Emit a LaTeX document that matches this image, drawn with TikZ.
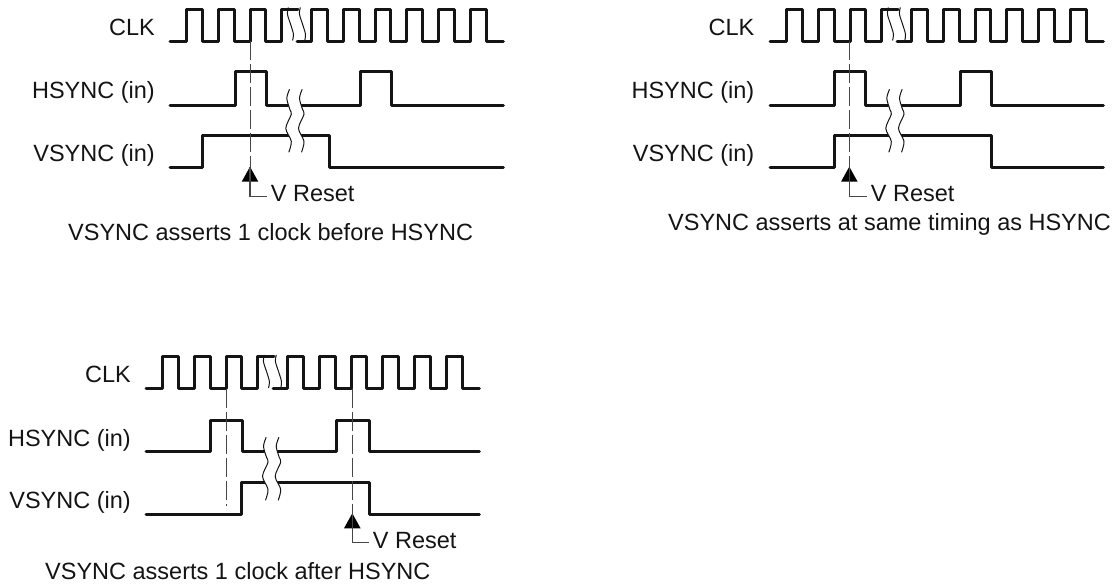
\documentclass[tikz,border=0pt]{standalone}
\usepackage{fontspec}
\setmainfont{Liberation Sans}
\usetikzlibrary{positioning}
\definecolor{wireblack}{RGB}{20,20,20}
\definecolor{guidegray}{RGB}{70,70,70}

% clock wave: x start, y low
\newcommand{\clkwave}[2]{
  \draw [sig] (#1,#2) -- ++(16.7,0)
    \foreach \k in {1,2,3} { -- ++(0,-32) -- ++(15.85,0) -- ++(0,32) -- ++(15.85,0) }
    -- ++(0,-32) -- ++(16.2,0);
  \draw [sig] (#1+127,#2) -- (#1+141.7,#2)
    \foreach \k in {1,...,6} { -- ++(0,-32) -- ++(15.85,0) -- ++(0,32) -- ++(15.85,0) }
    -- ++(1.4,0);
  \begin{scope}[shift={(#1+118,#2-33.8)}]
    \draw [brk] plot [smooth] coordinates {(0.3,0) (-0.5,7) (3,18) (5.5,27) (4.5,33)};
    \draw [brk] plot [smooth] coordinates {(12.3,0) (11.5,7) (15,18) (17.5,27) (16.5,34.5)};
  \end{scope}
}
% break across hsync and vsync: x of left wave, y top
\newcommand{\syncbreak}[2]{
  \begin{scope}[shift={(#1,#2)}]
    \fill [white] plot [smooth] coordinates {(1.2,0) (-1.5,9) (1.5,20) (3,25) (-2.5,39) (3,52) (0.5,63)}
      -- plot [smooth] coordinates {(13.2,63) (15.7,52) (10.2,39) (15.7,25) (14.2,20) (11.2,9) (13.9,0)} -- cycle;
    \draw [brk] plot [smooth] coordinates {(1.2,0) (-1.5,9) (1.5,20) (3,25) (-2.5,39) (3,52) (0.5,63)};
    \draw [brk] plot [smooth] coordinates {(13.9,0) (11.2,9) (14.2,20) (15.7,25) (10.2,39) (15.7,52) (13.2,63)};
  \end{scope}
}

\begin{document}
\begin{tikzpicture}[
  x=1pt, y=-1pt,
  every node/.style={font=\fontsize{23.5}{26}\selectfont, inner sep=0pt, text=wireblack},
  sig/.style={draw=wireblack, line width=3pt, line cap=round, line join=round},
  brk/.style={draw=wireblack, line width=1pt},
  guide/.style={draw=guidegray, line width=1pt, dash pattern=on 19pt off 4pt},
  tick/.style={draw=guidegray, line width=1.1pt, shorten >=4pt},
  tip/.style={fill=black, draw=none}
]
  \useasboundingbox (0,0) rectangle (1116,586);

  % Before
  \node (clkA) [anchor=base east] at (155,35.5) {CLK};
  \node (hsyncA) [anchor=base east] at (155,98.5) {HSYNC (in)};
  \node (vsyncA) [anchor=base east] at (155,161.5) {VSYNC (in)};
  \clkwave{170}{41.3}
  \draw [sig] (170,105) -- (235,105) -- (235,72) -- (266.7,72) -- (266.7,105) -- (360,105) -- (360,72) -- (391.7,72) -- (391.7,105) -- (503.3,105);
  \draw [sig] (170,167.3) -- (202.7,167.3) -- (202.7,135.7) -- (329,135.7) -- (329,167.3) -- (503.3,167.3);
  \syncbreak{288.3}{89.3}
  \coordinate (topA) at (250,41.3);
  \coordinate (tipA) at (250,166.7);
  \coordinate (kneeA) at (250,196.7);
  \draw [guide] (topA) -- (tipA);
  \fill [tip] (tipA) -- (258.3,181.7) -- (241.7,181.7) -- cycle;
  \node (resetA) [anchor=base west] at (270.7,201) {V Reset};
  \draw [tick] (tipA) -- (kneeA) -- (kneeA -| resetA.west);
  \node (capA) [anchor=base west] at (68,240.7) {VSYNC asserts 1 clock before HSYNC};

  % Same timing
  \node (clkB) [anchor=base east] at (754.5,35.5) {CLK};
  \node (hsyncB) [anchor=base east] at (754.5,98.5) {HSYNC (in)};
  \node (vsyncB) [anchor=base east] at (754.5,161.5) {VSYNC (in)};
  \clkwave{770}{41.3}
  \draw [sig] (770,105) -- (834,105) -- (834,72) -- (865.7,72) -- (865.7,105) -- (960,105) -- (960,72) -- (991.7,72) -- (991.7,105) -- (1103.3,105);
  \draw [sig] (770,167.3) -- (834,167.3) -- (834,135.7) -- (991.7,135.7) -- (991.7,167.3) -- (1103.3,167.3);
  \syncbreak{888.3}{89.3}
  \coordinate (topB) at (849.3,41.3);
  \coordinate (tipB) at (849.3,166.7);
  \coordinate (kneeB) at (849.3,196.7);
  \draw [guide] (topB) -- (tipB);
  \fill [tip] (tipB) -- (857.6,181.7) -- (841,181.7) -- cycle;
  \node (resetB) [anchor=base west] at (870.7,201) {V Reset};
  \draw [tick] (tipB) -- (kneeB) -- (kneeB -| resetB.west);
  \node (capB) [anchor=base west] at (668,230.7) {VSYNC asserts at same timing as HSYNC};

  % After
  \node (clkC) [anchor=base east] at (131,382.7) {CLK};
  \node (hsyncC) [anchor=base east] at (131,446) {HSYNC (in)};
  \node (vsyncC) [anchor=base east] at (131,508.5) {VSYNC (in)};
  \clkwave{146}{388.7}
  \draw [sig] (146,451) -- (210,451) -- (210,420) -- (242.7,420) -- (242.7,451) -- (336.7,451) -- (336.7,420) -- (369.3,420) -- (369.3,451) -- (479.3,451);
  \draw [sig] (146,514.3) -- (241.7,514.3) -- (241.7,482.7) -- (369.3,482.7) -- (369.3,514.3) -- (479.3,514.3);
  \syncbreak{265}{437.3}
  \coordinate (topC) at (226,388.7);
  \coordinate (endC) at (226,506);
  \coordinate (topD) at (352.3,388.7);
  \coordinate (tipC) at (352.3,513.3);
  \coordinate (kneeC) at (352.3,542.7);
  \draw [guide] (topC) -- (endC);
  \draw [guide] (topD) -- (tipC);
  \fill [tip] (tipC) -- (360.6,528.3) -- (344,528.3) -- cycle;
  \node (resetC) [anchor=base west] at (372.7,548.3) {V Reset};
  \draw [tick] (tipC) -- (kneeC) -- (kneeC -| resetC.west);
  \node (capC) [anchor=base west] at (45,579) {VSYNC asserts 1 clock after HSYNC};
\end{tikzpicture}
\end{document}
